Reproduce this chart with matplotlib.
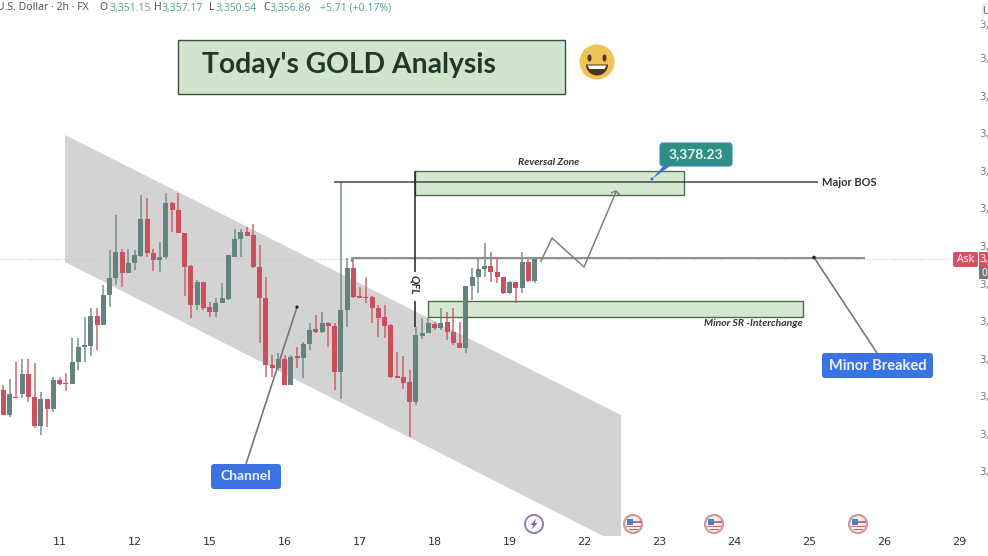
import matplotlib
matplotlib.use('Agg')

import matplotlib.pyplot as plt
from matplotlib.patches import Polygon, Rectangle, Circle, Ellipse, Wedge, FancyBboxPatch
from matplotlib.transforms import Affine2D

# 2h candles
opens = [3319.0, 3311.5, 3317.0, 3317.8, 3323.8, 3317.0, 3308.2, 3316.2, 3313.4, 3322.0,
         3321.0, 3320.8, 3327.5, 3332.0, 3332.3, 3341.2, 3338.4, 3347.5, 3352.5, 3360.3,
         3354.0, 3357.2, 3359.2, 3370.3, 3360.0, 3358.0, 3358.8, 3375.0, 3373.0, 3366.2,
         3356.2, 3344.5, 3351.5, 3343.8, 3342.5, 3345.0, 3346.3, 3359.0, 3364.2, 3366.5,
         3365.5, 3355.8, 3346.7, 3326.5, 3325.5, 3328.3, 3320.5, 3329.2, 3328.7, 3332.7,
         3337.2, 3336.5, 3339.2, 3338.3, 3324.3, 3343.0, 3355.7, 3347.2, 3347.0, 3346.8,
         3343.7, 3340.8, 3338.5, 3323.2, 3322.8, 3321.3, 3315.3, 3335.3, 3336.2, 3338.8,
         3337.5, 3339.3, 3336.5, 3333.0, 3331.7, 3350.3, 3353.0, 3355.2, 3356.3, 3354.3,
         3352.8, 3348.2, 3351.5, 3349.5, 3357.3, 3351.8]
highs = [3320.5, 3322.2, 3327.5, 3328.2, 3328.2, 3327.0, 3318.5, 3316.2, 3323.0, 3322.8,
         3324.0, 3334.5, 3334.5, 3340.8, 3343.5, 3343.5, 3350.5, 3361.0, 3371.5, 3361.2,
         3361.2, 3361.0, 3377.5, 3376.5, 3361.2, 3363.5, 3378.2, 3375.5, 3378.2, 3366.2,
         3356.5, 3352.0, 3351.5, 3345.5, 3346.5, 3351.2, 3359.5, 3367.2, 3367.2, 3368.0,
         3368.8, 3362.5, 3352.8, 3329.5, 3330.0, 3329.5, 3329.5, 3332.0, 3333.5, 3339.0,
         3341.5, 3342.5, 3339.5, 3339.0, 3381.3, 3358.5, 3358.5, 3350.0, 3352.8, 3347.2,
         3344.5, 3344.5, 3338.8, 3330.5, 3329.3, 3325.0, 3338.0, 3340.5, 3340.5, 3339.5,
         3343.5, 3342.5, 3343.5, 3339.3, 3350.3, 3355.7, 3358.8, 3363.0, 3360.5, 3359.0,
         3353.0, 3351.7, 3351.5, 3360.5, 3358.2, 3358.2]
lows = [3311.5, 3310.8, 3316.5, 3316.5, 3315.5, 3307.5, 3305.5, 3308.0, 3312.5, 3320.5,
        3318.8, 3320.8, 3325.0, 3327.5, 3329.2, 3331.0, 3338.4, 3344.0, 3350.5, 3349.8,
        3354.0, 3355.0, 3359.0, 3358.8, 3354.7, 3354.5, 3358.2, 3366.5, 3366.2, 3347.2,
        3340.5, 3343.0, 3343.0, 3340.8, 3340.8, 3345.0, 3346.0, 3358.8, 3358.8, 3365.2,
        3355.5, 3333.0, 3323.0, 3323.0, 3325.0, 3320.5, 3320.5, 3325.5, 3322.5, 3331.0,
        3336.0, 3336.0, 3332.0, 3319.0, 3316.2, 3338.0, 3346.5, 3346.5, 3345.0, 3339.0,
        3335.0, 3334.5, 3322.5, 3322.5, 3319.2, 3305.0, 3314.5, 3334.2, 3336.0, 3337.0,
        3337.0, 3334.0, 3332.5, 3331.5, 3330.0, 3346.0, 3348.0, 3353.0, 3351.5, 3351.0,
        3347.8, 3347.8, 3345.0, 3348.0, 3351.5, 3351.2]
closes = [3311.5, 3317.8, 3316.5, 3323.8, 3317.0, 3308.2, 3316.2, 3313.4, 3322.0, 3320.8,
          3320.8, 3327.5, 3332.0, 3332.5, 3341.2, 3338.4, 3347.5, 3352.5, 3360.3, 3354.0,
          3357.2, 3359.4, 3370.3, 3360.0, 3358.0, 3358.8, 3375.0, 3373.0, 3366.2, 3356.0,
          3344.5, 3351.5, 3343.7, 3342.5, 3345.2, 3346.5, 3359.5, 3364.2, 3366.4, 3365.2,
          3355.8, 3346.5, 3326.5, 3325.5, 3328.3, 3320.5, 3329.0, 3328.5, 3332.7, 3337.0,
          3336.3, 3339.2, 3338.2, 3324.3, 3343.0, 3355.7, 3347.0, 3346.5, 3346.5, 3343.7,
          3340.7, 3338.3, 3323.0, 3322.7, 3321.2, 3315.3, 3335.5, 3336.2, 3339.0, 3337.5,
          3339.2, 3336.5, 3333.0, 3331.7, 3350.3, 3353.0, 3355.2, 3356.3, 3354.5, 3352.8,
          3348.2, 3351.5, 3349.5, 3357.5, 3351.8, 3358.2]

day_ticks = [9, 21, 33, 45, 57, 69, 81, 93, 105, 117, 129, 141, 153]
day_labels = ['11', '12', '15', '16', '17', '18', '19', '22', '23', '24', '25', '26', '29']
price_ticks = [3428.8, 3418.6, 3407.3, 3396.1, 3384.8, 3373.6, 3362.2, 3350.9, 3339.7,
               3328.3, 3317.2, 3305.8, 3294.7]

UP = '#64837e'
DOWN = '#c9505c'
GREEN_FILL = '#d3e8cf'
GREEN_EDGE = '#4f6b52'
BLUE = '#3b74e2'
GREY = '#666666'
BOLD_FONT = 'Lato'

fig = plt.figure(figsize=(9.88, 5.56), dpi=100)
ax = fig.add_axes([0, 0, 1, 1])
ax.set_xlim(-0.528, 157.55)
ax.set_ylim(3269.2, 3436)
for s in ax.spines.values():
    s.set_visible(False)

plt.rcParams['font.family'] = ['Noto Sans', 'DejaVu Sans']

# annotations are placed in picture pixels, y going down
px = Affine2D().scale(1, -1).translate(0, 556)


def shape(patch, z=3):
    patch.set_transform(px)
    patch.set_zorder(z)
    ax.add_artist(patch)


def line(xs, ys, color=GREY, lw=1.2, z=4, **kw):
    ax.plot(xs, ys, color=color, lw=lw, zorder=z, transform=px, solid_capstyle='butt', **kw)


def label(x, y, s, **kw):
    kw.setdefault('va', 'center')
    kw.setdefault('zorder', 8)
    ax.text(x, y, s, transform=px, **kw)


def bold(x, y, s, **kw):
    label(x, y, s, family=BOLD_FONT, fontweight='bold', **kw)


def button(x0, y0, x1, y1, s, color, size=10):
    shape(FancyBboxPatch((x0 + 3, y0 + 3), x1 - x0 - 6, y1 - y0 - 6,
                         boxstyle='round,pad=3,rounding_size=3', fc=color, ec='none'), 7)
    bold((x0 + x1) / 2, (y0 + y1) / 2, s, color='#eef3ff', fontsize=size, ha='center')


# channel goes under everything
shape(Polygon([(65, 135), (621, 415), (621, 536), (603, 536), (65, 262)], fc='#d3d3d3', ec='none'), 1)
line([0, 950], [259, 259], color='#c8c8c8', lw=0.8, z=1.5, linestyle=(0, (1, 1.5)))

# zones
shape(Rectangle((415, 171), 269, 24, fc=GREEN_FILL, ec=GREEN_EDGE, lw=1), 2)
shape(Rectangle((428, 301), 375, 15.5, fc=GREEN_FILL, ec=GREEN_EDGE, lw=1), 2)

# candles
xs = list(range(len(opens)))
colors = [UP if c >= o else DOWN for o, c in zip(opens, closes)]
ax.vlines(xs, lows, highs, colors=colors, lw=1.2, alpha=0.8, zorder=3)
ax.bar(xs, [abs(c - o) for o, c in zip(opens, closes)],
       bottom=[min(o, c) for o, c in zip(opens, closes)],
       width=0.8, color=colors, zorder=3.5)

# levels
line([334, 818], [182, 182], color='#444444', lw=1.1)
line([352, 352, 865], [262, 257.5, 257.5], color='#8f8f8f', lw=1.5)
line([415, 415], [171, 272], color='#222222', lw=1.1)
line([415, 415], [301, 327], color='#222222', lw=1.1)
bold(415, 285, 'QFL', rotation=270, ha='center', fontsize=8, fontstyle='italic', color='#333333')
bold(548.5, 162.5, 'Reversal Zone', ha='center', fontsize=7.5, fontstyle='italic', color='#333333')
bold(849, 183, 'Major BOS', ha='center', fontsize=8, color='#333333')
bold(802, 324, 'Minor SR -Interchange', ha='right', fontsize=7.5, fontstyle='italic', color='#333333')

# projected path
line([540.5, 552, 584, 616], [262, 238, 267, 192], color='#808080', lw=1.1)
line([611, 616, 620], [193, 191, 195], color='#808080', lw=1.1)

# callouts
line([297, 246], [307, 464], color='#777777', lw=1.2, z=5)
shape(Circle((297, 307), 1.6, fc='#222222', ec='none'), 6)
line([814, 877], [257.5, 353], color='#777777', lw=1.2)
shape(Circle((814, 257.5), 1.8, fc='#222222', ec='none'), 6)
button(211, 464, 281, 489, 'Channel', BLUE, 10)
button(822, 353, 933, 378, 'Minor Breaked', BLUE, 10.5)

shape(Polygon([(665, 164), (673, 164), (652, 179)], fc='#3a78c8', ec='none'), 6)
shape(Circle((652, 179), 1.5, fc='#3a6fc8', ec='none'), 6)
shape(FancyBboxPatch((663, 146), 66, 17, boxstyle='round,pad=3,rounding_size=3',
                     fc='#2f8f84', ec='#3f86c9', lw=0.8), 7)
bold(696, 154.5, '3,378.23', color='#e8f6f2', fontsize=10, ha='center')

# title box
shape(Rectangle((178, 40), 387, 54, fc='#d0e6cc', ec='#3c4f40', lw=1), 6)
bold(202, 64.5, "Today's GOLD Analysis", fontsize=20.3, color='#20392a')

# smiley
shape(Circle((597, 62), 17.5, fc='#f1c255', ec='none'), 6)
shape(Ellipse((589.5, 58), 4, 7, fc='#4a3420', ec='none'), 7)
shape(Ellipse((604.5, 58), 4, 7, fc='#4a3420', ec='none'), 7)
shape(Wedge((597, 64.5), 11, 0, 180, fc='#4a3420', ec='none'), 7)
shape(Polygon([(587.5, 65.5), (606.5, 65.5), (604.5, 69), (589.5, 69)], fc='#ffffff', ec='none'), 8)

# event icons along the bottom
shape(Circle((534, 524), 9, fc='#ffffff', ec='#9a76bd', lw=1.4), 6)
shape(Polygon([(536.5, 518.5), (530.5, 525), (533.5, 525), (531.5, 529.5), (537.5, 523), (534.5, 523)],
              fc='#7d55a8', ec='none'), 7)
for fx in [633, 714, 858]:
    shape(Circle((fx, 524), 9, fc='#f4eeee', ec='#d09a9a', lw=1.6), 6)
    shape(Rectangle((fx - 6.5, 519), 6.5, 6, fc='#4a7fd0', ec='none'), 7)
    shape(Rectangle((fx, 521), 7.5, 1.5, fc='#c96a6a', ec='none'), 7)
    shape(Rectangle((fx - 7, 525.5), 14.5, 1.8, fc='#c96a6a', ec='none'), 7)
    shape(Rectangle((fx - 4.5, 529), 9.5, 1.4, fc='#c96a6a', ec='none'), 7)

# header line
GREY_TXT = '#555555'
TEAL_TXT = '#5da79e'
label(-3, 8, 'U.S. Dollar · 2h · FX', color=GREY_TXT, fontsize=7.5)
for x, s, c in [(99, 'O', GREY_TXT), (109, '3,351.15', TEAL_TXT), (154, 'H', GREY_TXT), (162, '3,357.17', TEAL_TXT),
                (209, 'L', GREY_TXT), (216, '3,350.54', TEAL_TXT), (263, 'C', GREY_TXT), (270, '3,356.86', TEAL_TXT),
                (320, '+5.71 (+0.17%)', TEAL_TXT)]:
    label(x, 8, s, color=c, fontsize=7.5)

# right scale tags
shape(FancyBboxPatch((955, 254), 21, 11, boxstyle='round,pad=2,rounding_size=2', fc='#d9505f', ec='none'), 6)
label(965.5, 259.5, 'Ask', color='#ffffff', fontsize=7.5, ha='center')
shape(Rectangle((979, 252), 9, 15, fc='#d9505f', ec='none'), 6)
label(979.5, 259.5, '3,', color='#ffffff', fontsize=7.5)
shape(Rectangle((979, 267), 9, 12, fc='#777777', ec='none'), 6)
label(981, 273, '0', color='#ffffff', fontsize=7.5)
shape(FancyBboxPatch((984, 5), 8, 15, boxstyle='round,pad=1,rounding_size=2', fc='#ffffff', ec='#e4e4e4', lw=0.8), 6)
label(982, 11, 'U', color=GREY_TXT, fontsize=7.5)

# axes ticks, drawn inside the frame as on the original screen
ax.yaxis.tick_right()
ax.set_yticks(price_ticks)
ax.set_yticklabels(['3,'] * len(price_ticks))
ax.tick_params(axis='y', length=0, direction='in', pad=-6.5, labelsize=7.5, labelcolor='#777777')
ax.set_xticks(day_ticks)
ax.set_xticklabels(day_labels)
ax.tick_params(axis='x', length=0, direction='in', pad=-14, labelsize=8, labelcolor='#333333')

fig.savefig('out.png', dpi=100)
